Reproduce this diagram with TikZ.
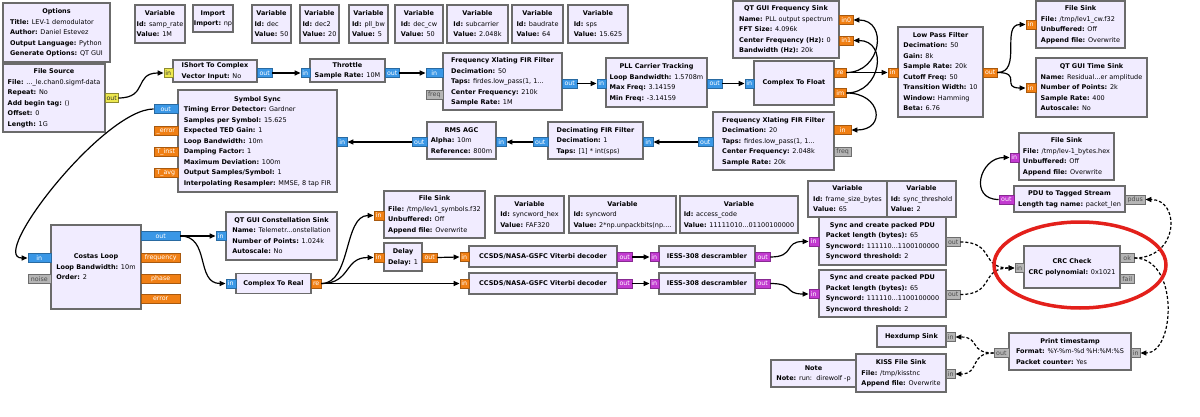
\documentclass[tikz,border=0pt]{standalone}
\usepackage{fontspec}
\setmainfont{DejaVu Sans}
\usetikzlibrary{arrows.meta}
\definecolor{blockfill}{HTML}{F1ECFF}
\definecolor{edgegray}{HTML}{6B6B6B}
\definecolor{cplxblue}{HTML}{3A97E6}
\definecolor{fltorange}{HTML}{F07F14}
\definecolor{shortyellow}{HTML}{EDE84F}
\definecolor{bytepurple}{HTML}{C23AD0}
\definecolor{msggray}{HTML}{B5B5B5}
\definecolor{markred}{HTML}{E3201B}
\newcommand{\blockfont}{\fontsize{6.5}{10.5}\selectfont}
\newcommand{\portfont}{\fontsize{6.3}{7}\selectfont}
\newcommand{\prm}[2]{\textbf{#1:} #2}
\newcommand{\blk}[2]{\begin{tabular}{@{}l@{}}\multicolumn{1}{@{}c@{}}{\bfseries #1}\\#2\end{tabular}}
\newcommand{\varblk}[2]{\blk{Variable}{\prm{Id}{#1}\\ \prm{Value}{#2}}}
\tikzset{
  block/.style={draw=edgegray, line width=1.1pt, fill=blockfill, inner sep=0pt, font=\blockfont},
  port/.style={inner sep=0pt, minimum height=9pt, font=\portfont, line width=0.4pt},
  cplx/.style={port, fill=cplxblue, draw=cplxblue!70!black, text=white},
  flt/.style={port, fill=fltorange, draw=fltorange!70!black, text=white},
  shrt/.style={port, fill=shortyellow, draw=shortyellow!60!black, text=black!80},
  byt/.style={port, fill=bytepurple, draw=bytepurple!70!black, text=white},
  msgp/.style={port, fill=msggray, draw=msggray!60!black, text=black!70},
  wire/.style={-{Triangle[length=6pt,width=5pt]}, line width=1.2pt},
  msgwire/.style={wire, dash pattern=on 3pt off 2pt},
}
\begin{document}
\begin{tikzpicture}[x=1pt,y=-1pt]
  \useasboundingbox[fill=white] (0,0) rectangle (1200,417);
  % top row
  \node[block, minimum width=107pt, minimum height=59pt] (opts) at (56.5,32.5) {\blk{Options}{\prm{Title}{LEV-1 demodulator}\\ \prm{Author}{Daniel Estevez}\\ \prm{Output Language}{Python}\\ \prm{Generate Options}{QT GUI}}};
  \node[block, minimum width=50pt, minimum height=38pt] (v-samprate) at (160,24) {\varblk{samp\_rate}{1M}};
  \node[block, minimum width=40pt, minimum height=27pt] (imp) at (213,18.5) {\blk{Import}{\prm{Import}{np}}};
  \node[block, minimum width=39pt, minimum height=38pt] (v-dec) at (271.5,24) {\varblk{dec}{50}};
  \node[block, minimum width=39pt, minimum height=38pt] (v-dec2) at (319.5,24) {\varblk{dec2}{20}};
  \node[block, minimum width=39pt, minimum height=38pt] (v-pllbw) at (368.5,24) {\varblk{pll\_bw}{5}};
  \node[block, minimum width=48pt, minimum height=38pt] (v-deccw) at (419,24) {\varblk{dec\_cw}{50}};
  \node[block, minimum width=61pt, minimum height=38pt] (v-subc) at (477.5,24) {\varblk{subcarrier}{2.048k}};
  \node[block, minimum width=51pt, minimum height=38pt] (v-baud) at (537.5,24) {\varblk{baudrate}{64}};
  \node[block, minimum width=60pt, minimum height=38pt] (v-sps) at (598,24) {\varblk{sps}{15.625}};

  % source chain
  \node[block, minimum width=102pt, minimum height=68pt] (fsrc) at (54,98) {\blk{File Source}{\prm{File}{...\_le.chan0.sigmf-data}\\ \prm{Repeat}{No}\\ \prm{Add begin tag}{()}\\ \prm{Offset}{0}\\ \prm{Length}{1G}}};
  \node[shrt, minimum width=13pt, anchor=west] (fsrc-out) at (105,98) {out};
  \node[block, minimum width=84pt, minimum height=22pt] (s2c) at (215,71) {\blk{IShort To Complex}{\prm{Vector Input}{No}}};
  \node[shrt, minimum width=9pt, anchor=east] (s2c-in) at (173,73) {in};
  \node[cplx, minimum width=15pt, anchor=west] (s2c-out) at (257,73) {out};
  \node[block, minimum width=75pt, minimum height=23pt] (thr) at (347.5,70.5) {\blk{Throttle}{\prm{Sample Rate}{10M}}};
  \node[cplx, minimum width=9pt, anchor=east] (thr-in) at (310,73) {in};
  \node[cplx, minimum width=14pt, anchor=west] (thr-out) at (385,73) {out};
  \node[block, minimum width=119pt, minimum height=57pt] (fxf1) at (502.5,81.5) {\blk{Frequency Xlating FIR Filter}{\prm{Decimation}{50}\\ \prm{Taps}{firdes.low\_pass(1, 1...}\\ \prm{Center Frequency}{210k}\\ \prm{Sample Rate}{1M}}};
  \node[cplx, minimum width=17pt, anchor=east] (fxf1-in) at (443,73) {in};
  \node[msgp, minimum width=17pt, anchor=east] (fxf1-freq) at (443,95) {freq};
  \node[cplx, minimum width=15pt, anchor=west] (fxf1-out) at (562,83.5) {out};
  \node[block, minimum width=101pt, minimum height=49pt] (pll) at (656.5,82.5) {\blk{PLL Carrier Tracking}{\prm{Loop Bandwidth}{1.5708m}\\ \prm{Max Freq}{3.14159}\\ \prm{Min Freq}{-3.14159}}};
  \node[cplx, minimum width=9pt, anchor=east] (pll-in) at (606,83.5) {in};
  \node[cplx, minimum width=15pt, anchor=west] (pll-out) at (707,83.5) {out};
  \node[block, minimum width=80pt, minimum height=44pt] (c2f) at (794,83) {\textbf{Complex To Float}};
  \node[cplx, minimum width=9pt, anchor=east] (c2f-in) at (754,83.5) {in};
  \node[flt, minimum width=12pt, anchor=west] (c2f-re) at (834,72.5) {re};
  \node[flt, minimum width=12pt, anchor=west] (c2f-im) at (834,93) {im};
  \node[block, minimum width=106pt, minimum height=57pt] (fsink) at (786,29.5) {\blk{QT GUI Frequency Sink}{\prm{Name}{PLL output spectrum}\\ \prm{FFT Size}{4.096k}\\ \prm{Center Frequency (Hz)}{0}\\ \prm{Bandwidth (Hz)}{20k}}};
  \node[flt, minimum width=14pt, anchor=west] (fsink-in0) at (839,20) {in0};
  \node[flt, minimum width=14pt, anchor=west] (fsink-in1) at (839,40.5) {in1};
  \node[block, minimum width=85pt, minimum height=90pt] (lpf) at (940.5,72) {\blk{Low Pass Filter}{\prm{Decimation}{50}\\ \prm{Gain}{8k}\\ \prm{Sample Rate}{20k}\\ \prm{Cutoff Freq}{50}\\ \prm{Transition Width}{10}\\ \prm{Window}{Hamming}\\ \prm{Beta}{6.76}}};
  \node[flt, minimum width=10pt, anchor=east] (lpf-in) at (898,72.5) {in};
  \node[flt, minimum width=14pt, anchor=west] (lpf-out) at (983,72.5) {out};
  \node[block, minimum width=89pt, minimum height=47pt] (fcw) at (1080.5,24.5) {\blk{File Sink}{\prm{File}{/tmp/lev1\_cw.f32}\\ \prm{Unbuffered}{Off}\\ \prm{Append file}{Overwrite}}};
  \node[flt, minimum width=10pt, anchor=east] (fcw-in) at (1036,24.5) {in};
  \node[block, minimum width=111pt, minimum height=59pt] (tsink) at (1091.5,87.5) {\blk{QT GUI Time Sink}{\prm{Name}{Residual...er amplitude}\\ \prm{Number of Points}{2k}\\ \prm{Sample Rate}{400}\\ \prm{Autoscale}{No}}};
  \node[flt, minimum width=10pt, anchor=east] (tsink-in) at (1036,88) {in};

  % subcarrier chain (right to left)
  \node[block, minimum width=159pt, minimum height=102pt] (ss) at (257.5,141) {\blk{Symbol Sync}{\prm{Timing Error Detector}{Gardner}\\ \prm{Samples per Symbol}{15.625}\\ \prm{Expected TED Gain}{1}\\ \prm{Loop Bandwidth}{10m}\\ \prm{Damping Factor}{1}\\ \prm{Maximum Deviation}{100m}\\ \prm{Output Samples/Symbol}{1}\\ \prm{Interpolating Resampler}{MMSE, 8 tap FIR}}};
  \node[cplx, minimum width=24pt, anchor=east] (ss-out) at (178,109) {out};
  \node[flt, minimum width=24pt, anchor=east] (ss-err) at (178,131) {\_error};
  \node[flt, minimum width=24pt, anchor=east] (ss-tinst) at (178,152) {T\_inst};
  \node[flt, minimum width=24pt, anchor=east] (ss-tavg) at (178,173) {T\_avg};
  \node[cplx, minimum width=10pt, anchor=west] (ss-in) at (337,142) {in};
  \node[block, minimum width=69pt, minimum height=37pt] (agc) at (461.5,140.5) {\blk{RMS AGC}{\prm{Alpha}{10m}\\ \prm{Reference}{800m}}};
  \node[cplx, minimum width=15pt, anchor=east] (agc-out) at (427,142) {out};
  \node[cplx, minimum width=10pt, anchor=west] (agc-in) at (496,142) {in};
  \node[block, minimum width=95pt, minimum height=37pt] (dfir) at (595.5,140.5) {\blk{Decimating FIR Filter}{\prm{Decimation}{1}\\ \prm{Taps}{[1] * int(sps)}}};
  \node[cplx, minimum width=15pt, anchor=east] (dfir-out) at (548,142) {out};
  \node[cplx, minimum width=10pt, anchor=west] (dfir-in) at (643,142) {in};
  \node[block, minimum width=121pt, minimum height=58pt] (fxf2) at (773.5,141) {\blk{Frequency Xlating FIR Filter}{\prm{Decimation}{20}\\ \prm{Taps}{firdes.low\_pass(1, 1...}\\ \prm{Center Frequency}{2.048k}\\ \prm{Sample Rate}{20k}}};
  \node[cplx, minimum width=15pt, anchor=east] (fxf2-out) at (713,142) {out};
  \node[flt, minimum width=17pt, anchor=west] (fxf2-in) at (834,130) {in};
  \node[msgp, minimum width=17pt, anchor=west] (fxf2-freq) at (834,152) {freq};

  % costas and decoders
  \node[block, minimum width=90pt, minimum height=84pt] (cl) at (96,267) {\blk{Costas Loop}{\prm{Loop Bandwidth}{10m}\\ \prm{Order}{2}}};
  \node[cplx, minimum width=23pt, anchor=east] (cl-in) at (51,258) {in};
  \node[msgp, minimum width=23pt, anchor=east] (cl-noise) at (51,279) {noise};
  \node[cplx, minimum width=39pt, anchor=west] (cl-out) at (141,236) {out};
  \node[flt, minimum width=39pt, anchor=west] (cl-freq) at (141,257.5) {frequency};
  \node[flt, minimum width=39pt, anchor=west] (cl-phase) at (141,278.5) {phase};
  \node[flt, minimum width=39pt, anchor=west] (cl-err) at (141,299) {error};
  \node[block, minimum width=111pt, minimum height=48pt] (const) at (281.5,236) {\blk{QT GUI Constellation Sink}{\prm{Name}{Telemetr...onstellation}\\ \prm{Number of Points}{1.024k}\\ \prm{Autoscale}{No}}};
  \node[cplx, minimum width=10pt, anchor=east] (const-in) at (226,236) {in};
  \node[block, minimum width=75pt, minimum height=20pt] (c2r) at (273.5,283.5) {\textbf{Complex To Real}};
  \node[cplx, minimum width=10pt, anchor=east] (c2r-in) at (236,283.5) {in};
  \node[flt, minimum width=10pt, anchor=west] (c2r-re) at (311,283.5) {re};
  \node[block, minimum width=101pt, minimum height=47pt] (fsym) at (434.5,214.5) {\blk{File Sink}{\prm{File}{/tmp/lev1\_symbols.f32}\\ \prm{Unbuffered}{Off}\\ \prm{Append file}{Overwrite}}};
  \node[flt, minimum width=10pt, anchor=east] (fsym-in) at (384,215.5) {in};
  \node[block, minimum width=38pt, minimum height=28pt] (dly) at (403,257) {\blk{Delay}{\prm{Delay}{1}}};
  \node[flt, minimum width=10pt, anchor=east] (dly-in) at (384,257.5) {in};
  \node[flt, minimum width=15pt, anchor=west] (dly-out) at (422,257.5) {out};
  \node[block, minimum width=69pt, minimum height=37pt] (v-swhex) at (529.5,214.5) {\varblk{syncword\_hex}{FAF320}};
  \node[block, minimum width=107pt, minimum height=37pt] (v-sw) at (622.5,214.5) {\varblk{syncword}{2*np.unpackbits(np....}};
  \node[block, minimum width=118pt, minimum height=37pt] (v-ac) at (739,214.5) {\varblk{access\_code}{11111010...01100100000}};
  \node[block, minimum width=148pt, minimum height=21pt] (vit1) at (543,256.5) {\textbf{CCSDS/NASA-GSFC Viterbi decoder}};
  \node[flt, minimum width=9pt, anchor=east] (vit1-in) at (469,257) {in};
  \node[byt, minimum width=15pt, anchor=west] (vit1-out) at (617,257) {out};
  \node[block, minimum width=148pt, minimum height=21pt] (vit2) at (543,283.5) {\textbf{CCSDS/NASA-GSFC Viterbi decoder}};
  \node[flt, minimum width=9pt, anchor=east] (vit2-in) at (469,283.5) {in};
  \node[byt, minimum width=15pt, anchor=west] (vit2-out) at (617,283.5) {out};
  \node[block, minimum width=96pt, minimum height=21pt] (iess1) at (707,256.5) {\textbf{IESS-308 descrambler}};
  \node[byt, minimum width=9pt, anchor=east] (iess1-in) at (659,257) {in};
  \node[byt, minimum width=15pt, anchor=west] (iess1-out) at (755,257) {out};
  \node[block, minimum width=96pt, minimum height=21pt] (iess2) at (707,283.5) {\textbf{IESS-308 descrambler}};
  \node[byt, minimum width=9pt, anchor=east] (iess2-in) at (659,283.5) {in};
  \node[byt, minimum width=15pt, anchor=west] (iess2-out) at (755,283.5) {out};

  % frame sync, crc, sinks
  \node[block, minimum width=79pt, minimum height=36pt] (v-fsb) at (847.5,199) {\varblk{frame\_size\_bytes}{65}};
  \node[block, minimum width=69pt, minimum height=36pt] (v-sth) at (921.5,199) {\varblk{sync\_threshold}{2}};
  \node[block, minimum width=127pt, minimum height=48pt] (sp1) at (882.5,241) {\blk{Sync and create packed PDU}{\prm{Packet length (bytes)}{65}\\ \prm{Syncword}{111110...1100100000}\\ \prm{Syncword threshold}{2}}};
  \node[byt, minimum width=10pt, anchor=east] (sp1-in) at (819,241.5) {in};
  \node[msgp, minimum width=14pt, anchor=west] (sp1-out) at (946,242) {out};
  \node[block, minimum width=127pt, minimum height=47pt] (sp2) at (882.5,293.5) {\blk{Sync and create packed PDU}{\prm{Packet length (bytes)}{65}\\ \prm{Syncword}{111110...1100100000}\\ \prm{Syncword threshold}{2}}};
  \node[byt, minimum width=10pt, anchor=east] (sp2-in) at (819,294) {in};
  \node[msgp, minimum width=14pt, anchor=west] (sp2-out) at (946,294.5) {out};
  \node[block, minimum width=95pt, minimum height=47pt] (fbytes) at (1066.5,156.5) {\blk{File Sink}{\prm{File}{/tmp/lev-1\_bytes.hex}\\ \prm{Unbuffered}{Off}\\ \prm{Append file}{Overwrite}}};
  \node[byt, minimum width=9pt, anchor=east] (fbytes-in) at (1019,157.5) {in};
  \node[block, minimum width=111pt, minimum height=26pt] (p2s) at (1069.5,199) {\blk{PDU to Tagged Stream}{\prm{Length tag name}{packet\_len}}};
  \node[byt, minimum width=15pt, anchor=east] (p2s-out) at (1014,199.5) {out};
  \node[msgp, minimum width=20pt, anchor=west] (p2s-pdus) at (1125,199.5) {pdus};
  \node[block, minimum width=96pt, minimum height=42pt] (crc) at (1072,267) {\blk{CRC Check}{\prm{CRC polynomial}{0x1021}}};
  \node[msgp, minimum width=9pt, anchor=east] (crc-in) at (1024,268) {in};
  \node[msgp, minimum width=14pt, anchor=west] (crc-ok) at (1120,258) {ok};
  \node[msgp, minimum width=14pt, anchor=west] (crc-fail) at (1120,279) {fail};
  \node[block, minimum width=69pt, minimum height=21pt] (hex) at (911.5,336.5) {\textbf{Hexdump Sink}};
  \node[msgp, minimum width=9pt, anchor=west] (hex-in) at (946,337) {in};
  \node[block, minimum width=90pt, minimum height=38pt] (kiss) at (901,373) {\blk{KISS File Sink}{\prm{File}{/tmp/kisstnc}\\ \prm{Append file}{Overwrite}}};
  \node[msgp, minimum width=9pt, anchor=west] (kiss-in) at (946,374) {in};
  \node[block, minimum width=85pt, minimum height=27pt] (note) at (813.5,373.5) {\blk{Note}{\prm{Note}{run:\ \ direwolf -p}}};
  \node[block, minimum width=122pt, minimum height=37pt] (pts) at (1070,351.5) {\blk{Print timestamp}{\prm{Format}{\%Y-\%m-\%d \%H:\%M:\%S}\\ \prm{Packet counter}{Yes}}};
  \node[msgp, minimum width=15pt, anchor=east] (pts-out) at (1009,353) {out};
  \node[msgp, minimum width=9pt, anchor=west] (pts-in) at (1131,353) {in};

  % stream connections
  \draw[wire] (fsrc-out.east) .. controls +(30,0) and +(-30,0) .. (s2c-in.west);
  \draw[wire] (s2c-out.east) -- (thr-in.west);
  \draw[wire] (thr-out.east) -- (fxf1-in.west);
  \draw[wire] (fxf1-out.east) -- (pll-in.west);
  \draw[wire] (pll-out.east) -- (c2f-in.west);
  \draw[wire] (c2f-re.east) -- (lpf-in.west);
  \draw[wire] (c2f-re.east) .. controls +(35,0) and +(35,0) .. (fsink-in0.east);
  \draw[wire] (c2f-im.east) .. controls +(35,0) and +(35,0) .. (fsink-in1.east);
  \draw[wire] (c2f-im.east) .. controls +(35,0) and +(35,0) .. (fxf2-in.east);
  \draw[wire] (lpf-out.east) .. controls +(25,0) and +(-25,0) .. (fcw-in.west);
  \draw[wire] (lpf-out.east) .. controls +(25,0) and +(-25,0) .. (tsink-in.west);
  \draw[wire] (fxf2-out.west) -- (dfir-in.east);
  \draw[wire] (dfir-out.west) -- (agc-in.east);
  \draw[wire] (agc-out.west) -- (ss-in.east);
  \draw[wire] (ss-out.west) .. controls +(-50,0) and +(-40,0) .. (cl-in.west);
  \draw[wire] (cl-out.east) -- (const-in.west);
  \draw[wire] (cl-out.east) .. controls +(30,0) and +(-30,0) .. (c2r-in.west);
  \draw[wire] (c2r-re.east) .. controls +(30,0) and +(-30,0) .. (fsym-in.west);
  \draw[wire] (c2r-re.east) .. controls +(30,0) and +(-30,0) .. (dly-in.west);
  \draw[wire] (c2r-re.east) -- (vit2-in.west);
  \draw[wire] (dly-out.east) -- (vit1-in.west);
  \draw[wire] (vit1-out.east) -- (iess1-in.west);
  \draw[wire] (vit2-out.east) -- (iess2-in.west);
  \draw[wire] (iess1-out.east) .. controls +(25,0) and +(-25,0) .. (sp1-in.west);
  \draw[wire] (iess2-out.east) .. controls +(25,0) and +(-25,0) .. (sp2-in.west);
  \draw[wire] (p2s-out.west) .. controls +(-30,0) and +(-30,0) .. (fbytes-in.west);
  % message connections
  \draw[msgwire] (sp1-out.east) .. controls +(35,0) and +(-35,0) .. (crc-in.west);
  \draw[msgwire] (sp2-out.east) .. controls +(35,0) and +(-35,0) .. (crc-in.west);
  \draw[msgwire] (crc-ok.east) .. controls +(45,0) and +(35,0) .. (p2s-pdus.east);
  \draw[msgwire] (crc-ok.east) .. controls +(45,0) and +(35,0) .. (pts-in.east);
  \draw[msgwire] (pts-out.west) .. controls +(-25,0) and +(25,0) .. (hex-in.east);
  \draw[msgwire] (pts-out.west) .. controls +(-25,0) and +(25,0) .. (kiss-in.east);

  \draw[markred, line width=3.5pt] (1080,265) ellipse [x radius=86, y radius=43];
\end{tikzpicture}
\end{document}
